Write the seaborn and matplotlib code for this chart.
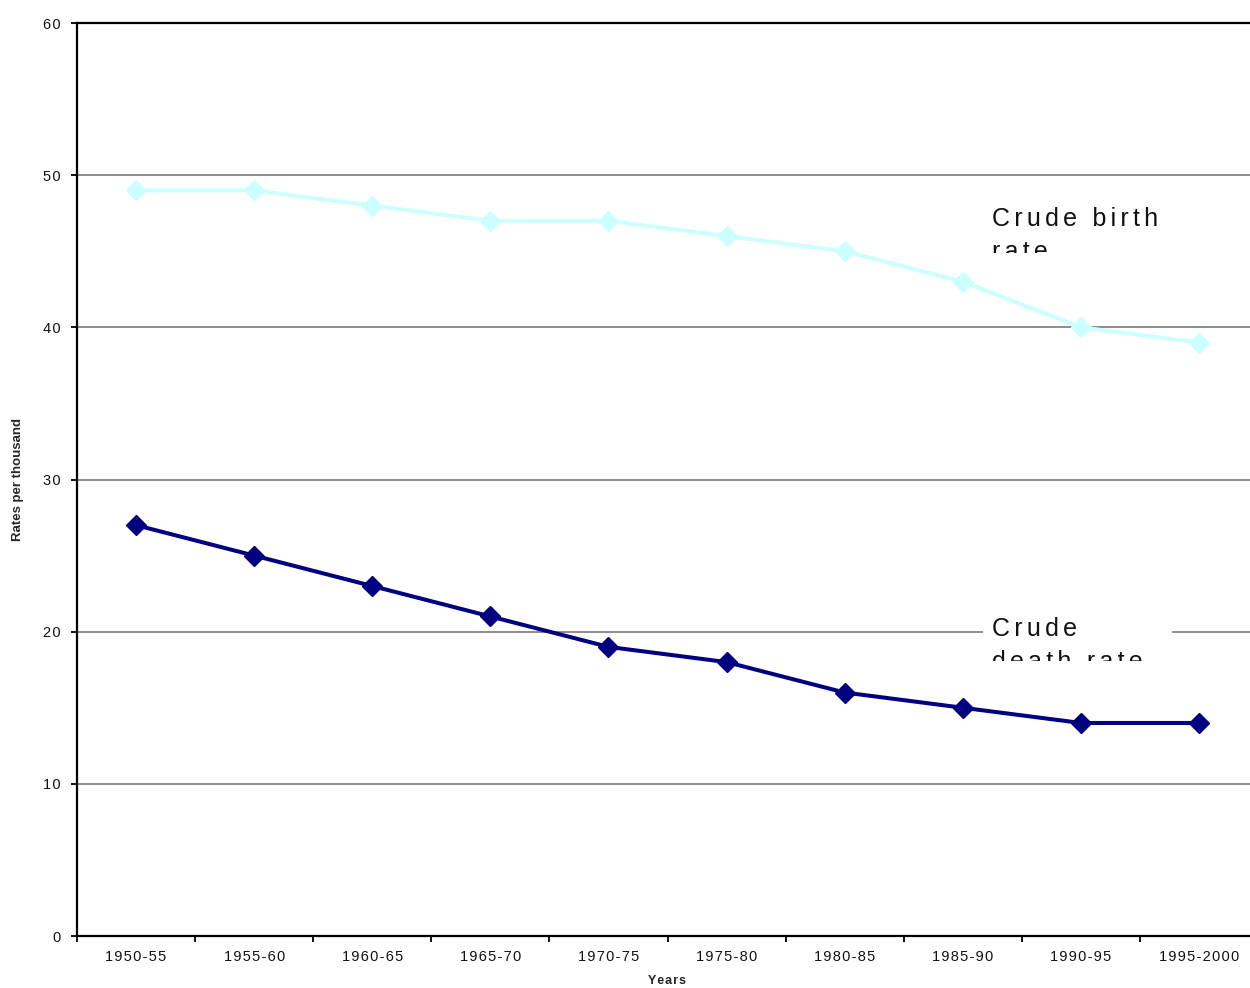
import numpy as np
import pandas as pd
import matplotlib
matplotlib.use("Agg")
import matplotlib.pyplot as plt
from matplotlib.patches import Rectangle
from matplotlib.transforms import Bbox, TransformedBbox
import seaborn as sns

# Vital rates per thousand population, by five-year period
periods = ["1950-55", "1955-60", "1960-65", "1965-70", "1970-75",
           "1975-80", "1980-85", "1985-90", "1990-95", "1995-2000"]
birth_rate = [49, 49, 48, 47, 47, 46, 45, 43, 40, 39]
death_rate = [27, 25, 23, 21, 19, 18, 16, 15, 14, 14]
y_ticks = [0, 10, 20, 30, 40, 50, 60]

series_names = ["Crude birth rate", "Crude death rate"]
series_colors = ["#CCFFFF", "#000080"]

sns.set_style("white")
plt.rcParams["font.family"] = ["Liberation Sans", "DejaVu Sans"]

W, H = 1250, 988
fig = plt.figure(figsize=(W / 100, H / 100), dpi=100)
ax = fig.add_axes([77 / W, 1 - 936 / H, 1181 / W, 913 / H])

HAIR = "\u200a"


def spaced(s, n=1):
    """Widen tracking by inserting hair spaces between characters."""
    return (HAIR * n).join(s)


def fx(x):
    return x / W


def fy(y):
    return 1 - y / H


df = pd.DataFrame({
    "period": periods * 2,
    "rate": birth_rate + death_rate,
    "series": [series_names[0]] * len(periods) + [series_names[1]] * len(periods),
})

for name, color in zip(series_names, series_colors):
    sns.lineplot(data=df[df["series"] == name], x="period", y="rate",
                 color=color, linewidth=2.9, marker="D", markersize=10,
                 markeredgecolor=color, markeredgewidth=1, sort=False,
                 legend=False, ax=ax, zorder=3)

ax.set_xlim(-0.5, len(periods) - 0.5)
ax.set_ylim(0, 60)

# Horizontal gridlines
ax.set_axisbelow(True)
ax.yaxis.grid(True, color="#8c8c8c", linewidth=1.4)
ax.xaxis.grid(False)

for side in ["left", "bottom", "top", "right"]:
    ax.spines[side].set_color("black")
    ax.spines[side].set_linewidth(1.6)

# y axis ticks
ax.set_yticks(y_ticks)
ax.set_yticklabels([spaced(str(v)) for v in y_ticks], fontsize=10.5, color="#111111")
ax.tick_params(axis="y", which="major", direction="out", length=4.5, width=1.3,
               color="black", pad=7, left=True)

# x axis: ticks on category boundaries, labels at category centres
ax.set_xticks(np.arange(-0.5, len(periods), 1.0))
ax.set_xticklabels([])
ax.set_xticks(np.arange(len(periods)), minor=True)
ax.set_xticklabels([spaced(p) for p in periods], minor=True, fontsize=10.5,
                   color="#111111")
ax.tick_params(axis="x", which="major", direction="out", length=4, width=1.3,
               color="black", bottom=True)
ax.tick_params(axis="x", which="minor", length=0, pad=10, bottom=True)

ax.set_xlabel(spaced("Years"), fontsize=9, fontweight="bold", va="center")
ax.xaxis.set_label_coords(0.5, -0.049)
ax.set_ylabel("Rates per thousand", fontsize=9.5, fontweight="bold", va="center")
ax.yaxis.set_label_coords(-0.05, 0.5)


# Series labels in white boxes that crop the second line
def box_label(lines, x, baseline, step, clip):
    x0, y0, x1, y1 = clip
    fig.add_artist(Rectangle((fx(x0), fy(y1)), fx(x1) - fx(x0), fy(y0) - fy(y1),
                             transform=fig.transFigure, facecolor="white",
                             edgecolor="none", zorder=2))
    cbox = TransformedBbox(Bbox.from_extents(fx(x0), fy(y1), fx(x1), fy(y0)),
                           fig.transFigure)
    for i, line in enumerate(lines):
        t = fig.text(fx(x), fy(baseline + i * step), spaced(line, 2),
                     fontsize=18, ha="left", va="baseline", color="#111111",
                     zorder=4)
        t.set_clip_on(True)
        t.set_clip_box(cbox)


box_label(["Crude birth", "rate"], 992, 226, 33, (983, 198, 1172, 253))
box_label(["Crude", "death rate"], 992, 636, 33, (983, 608, 1172, 661))

fig.savefig("out.png", dpi=100, facecolor="white")
